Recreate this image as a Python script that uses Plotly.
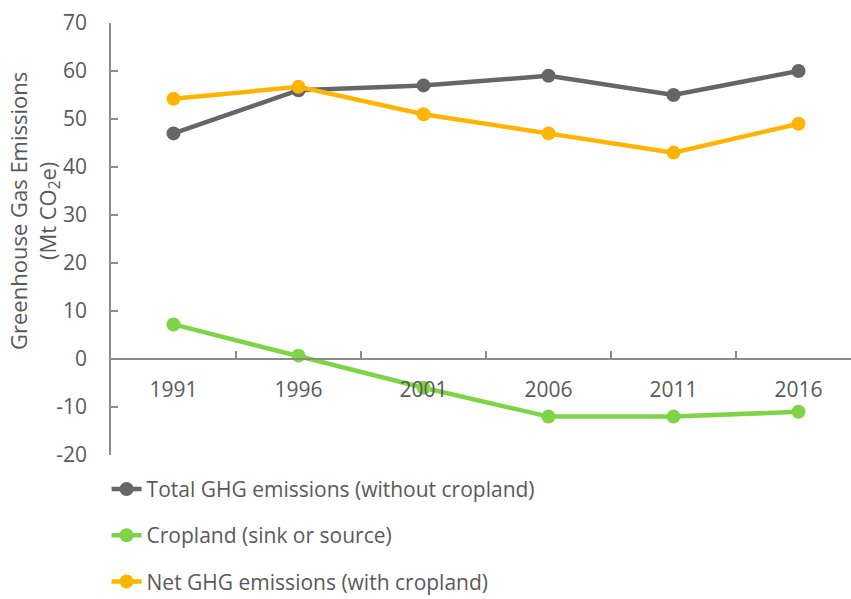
import plotly.graph_objects as go

years = ["1991", "1996", "2001", "2006", "2011", "2016"]
total_ghg = [47, 56, 57, 59, 55, 60]
cropland = [7.2, 0.7, -6, -12, -12, -11]
net_ghg = [54.2, 56.7, 51, 47, 43, 49]
y_ticks = [-20, -10, 0, 10, 20, 30, 40, 50, 60, 70]

series = [
    ("Total GHG emissions (without cropland)", total_ghg, "#666666"),
    ("Cropland (sink or source)", cropland, "#7ED348"),
    ("Net GHG emissions (with cropland)", net_ghg, "#FFB400"),
]

FONT = "Open Sans"
TEXT = "#595959"
AXIS = "#8C8C8C"

fig = go.Figure()
for i, (name, vals, color) in enumerate(series):
    fig.add_trace(go.Scatter(
        x=years, y=vals, name=name, mode="lines+markers",
        line=dict(color=color, width=4.5),
        marker=dict(color=color, size=14),
        legendgroup=f"g{i}",
    ))

y_min, y_max = y_ticks[0], y_ticks[-1]
fig.update_layout(
    width=851, height=599,
    margin=dict(l=111, r=0, t=23, b=144, autoexpand=False),
    paper_bgcolor="white", plot_bgcolor="white",
    font=dict(family=FONT, color=TEXT, size=21),
    showlegend=True,
    legend=dict(
        x=-0.006, xanchor="left", y=-0.032, yanchor="top",
        orientation="v", tracegroupgap=16,
        font=dict(size=21, color=TEXT), bgcolor="rgba(0,0,0,0)",
    ),
    xaxis=dict(
        type="category", range=[-0.5, 5.42],
        anchor="free", position=(0 - y_min) / (y_max - y_min),
        showline=True, linecolor=AXIS, linewidth=1.5,
        ticks="inside", tickson="boundaries", ticklen=7, tickcolor=AXIS, tickwidth=1.5,
        showgrid=False, zeroline=False,
        tickfont=dict(size=21, color=TEXT),
        ticklabelstandoff=12,
    ),
    yaxis=dict(
        range=[y_min, y_max],
        tickvals=y_ticks, ticktext=[str(v) for v in y_ticks],
        showline=True, linecolor=AXIS, linewidth=1.5,
        ticks="inside", ticklen=7, tickcolor=AXIS, tickwidth=1.5,
        showgrid=False, zeroline=False,
        tickfont=dict(size=21, color=TEXT),
        ticklabelstandoff=18,
    ),
)

fig.add_annotation(
    text="Greenhouse Gas Emissions<br>(Mt CO<sub>2</sub>e)",
    xref="paper", yref="paper", x=0, y=(455 - 211) / 432,
    xanchor="center", yanchor="middle", xshift=-111 + 34,
    textangle=-90, showarrow=False,
    font=dict(family=FONT, size=22, color=TEXT),
)

fig.write_html("out.html")
